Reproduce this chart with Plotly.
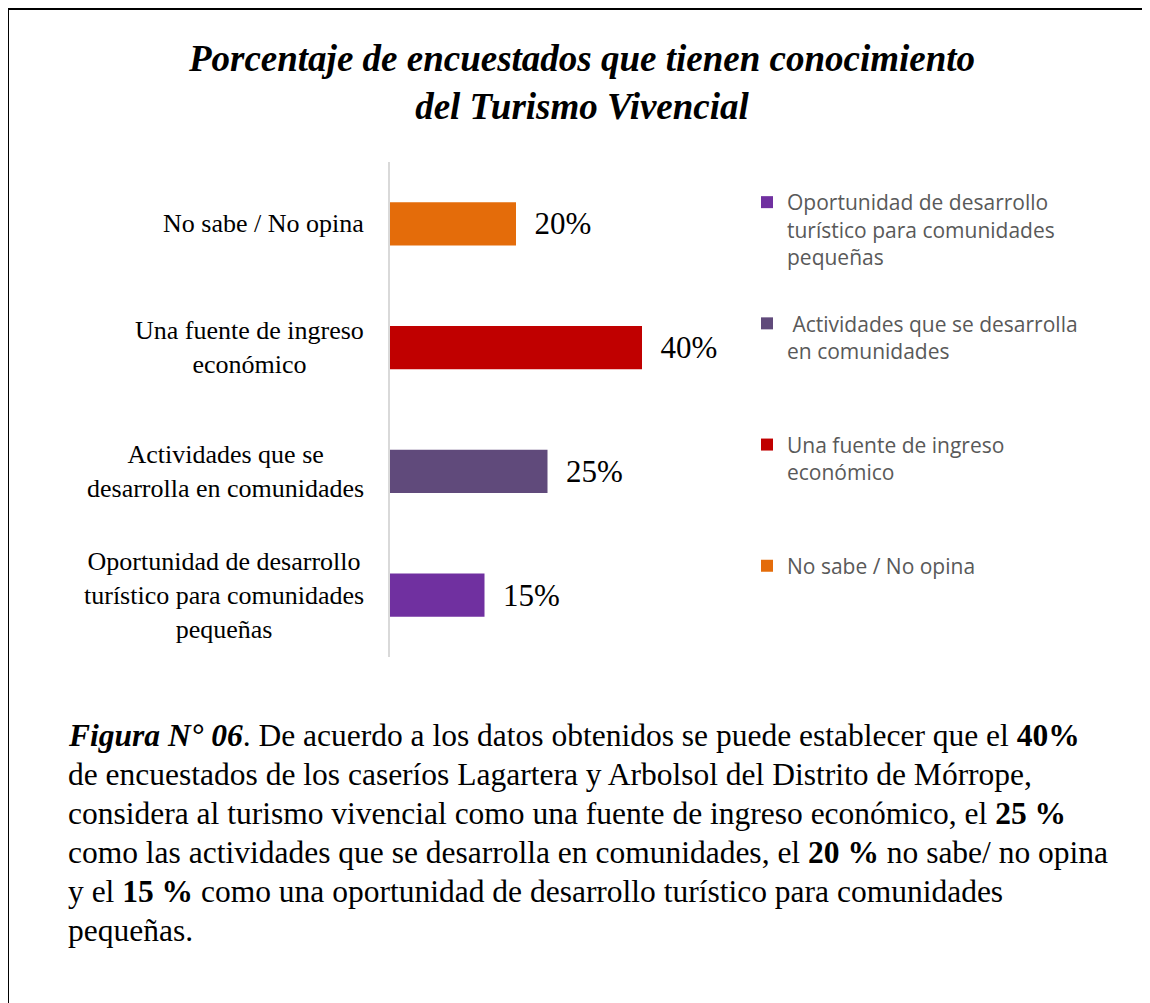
import plotly.graph_objects as go

# data
categories = [
    "Oportunidad de desarrollo<br>turístico para comunidades<br>pequeñas",
    "Actividades que se<br>desarrolla en comunidades",
    "Una fuente de ingreso<br>económico",
    "No sabe / No opina",
]
legend_names = [
    "Oportunidad de desarrollo<br>turístico para comunidades<br>pequeñas<br> ",
    " Actividades que se desarrolla<br>en comunidades<br> <br> ",
    "Una fuente de ingreso<br>económico<br> <br> ",
    "No sabe / No opina",
]
values = [15, 25, 40, 20]
colors = ["#7030A0", "#604A7B", "#C00000", "#E46C0A"]

title_text = "<b><i>Porcentaje de encuestados que tienen conocimiento<br>del Turismo Vivencial</i></b>"
caption_lines = [
    "<b><i>Figura N° 06</i></b>. De acuerdo a los datos obtenidos se puede establecer que el <b>40%</b>",
    "de encuestados de los caseríos Lagartera y Arbolsol del Distrito de Mórrope,",
    "considera al turismo vivencial como una fuente de ingreso económico, el <b>25 %</b>",
    "como las actividades que se desarrolla en comunidades, el <b>20 %</b> no sabe/ no opina",
    "y el <b>15 %</b> como una oportunidad de desarrollo turístico para comunidades",
    "pequeñas.",
]

# figure sits 8px in from the page corner (body margin)
W, H = 1142, 995
L, R, T, B = 382, 697, 154, 649
SERIF = "Liberation Serif, Times New Roman, serif"


def px_x(p):
    return (p - L) / (R - L)


def px_y(p):
    return (B - p) / (B - T)


fig = go.Figure()
for cat, name, v, c in zip(categories, legend_names, values, colors):
    fig.add_trace(go.Bar(
        y=[cat], x=[v], name=name, orientation="h", legendgroup=name,
        marker=dict(color=c, line=dict(width=0)),
        width=0.35,
        text=[v], texttemplate="\u00a0\u00a0%{x}%", textposition="outside",
        constraintext="none", cliponaxis=False,
        textfont=dict(family=SERIF, size=31, color="#000000"),
    ))

# category labels, centred lines, right-aligned block
for cat in categories:
    fig.add_annotation(
        x=px_x(358), y=cat, xref="paper", yref="y",
        text=cat, showarrow=False, xanchor="right", align="center",
        font=dict(family=SERIF, size=26, color="#000000"),
    )

# caption below the chart
for i, line in enumerate(caption_lines):
    fig.add_annotation(
        x=px_x(58), y=px_y(727 + 39 * i), xref="paper", yref="paper",
        text=line, showarrow=False, xanchor="left", yanchor="middle", align="left",
        font=dict(family=SERIF, size=31.5, color="#000000"),
    )

# page frame (top and left edges)
fig.add_shape(type="line", xref="paper", yref="paper",
              x0=px_x(0), x1=px_x(W), y0=px_y(1), y1=px_y(1),
              line=dict(color="#000000", width=2))
fig.add_shape(type="line", xref="paper", yref="paper",
              x0=px_x(0), x1=px_x(0), y0=px_y(1), y1=px_y(H),
              line=dict(color="#000000", width=2))

fig.update_layout(
    width=W, height=H,
    margin=dict(l=L, r=W - R, t=T, b=H - B),
    paper_bgcolor="white", plot_bgcolor="white",
    barmode="overlay",
    title=dict(text=title_text, x=574 / W, xanchor="center",
               y=1 - 63 / H, yanchor="top", yref="container",
               font=dict(family=SERIF, size=37, color="#000000")),
    legend=dict(x=px_x(739), y=px_y(174), xanchor="left", yanchor="top",
                valign="top", tracegroupgap=9,
                font=dict(family="Open Sans, sans-serif", size=21, color="#595959"),
                bgcolor="rgba(0,0,0,0)"),
    xaxis=dict(range=[0, 50], visible=False, fixedrange=True),
    yaxis=dict(showticklabels=False, ticks="", showgrid=False,
               showline=True, linecolor="#d9d9d9", linewidth=2,
               categoryorder="array", categoryarray=categories),
)

fig.write_html("out.html")
